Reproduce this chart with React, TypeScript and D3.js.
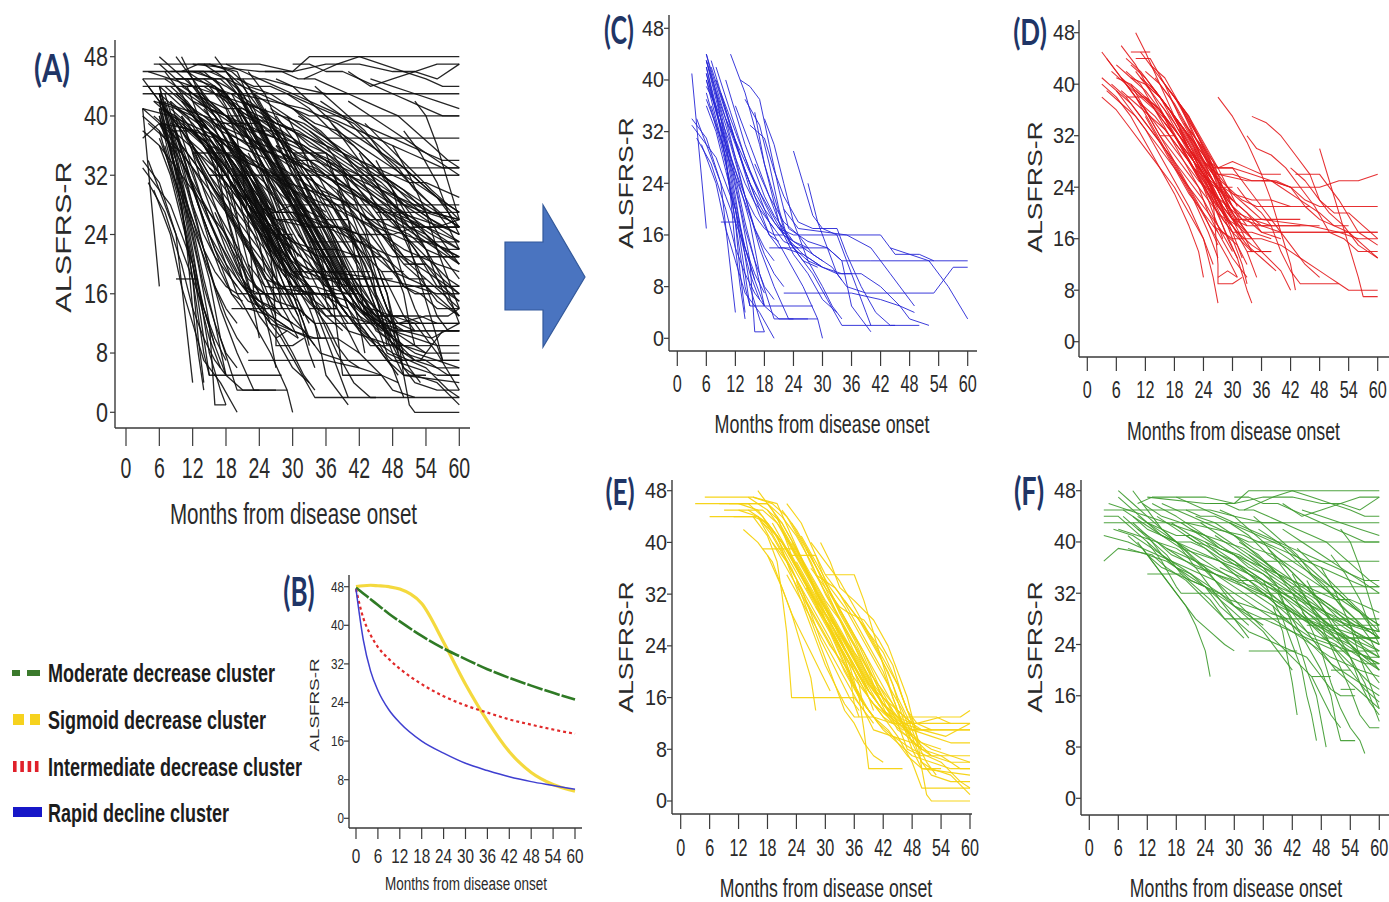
import React from 'react';
import * as d3 from 'd3';

type Pt = [number, number];

// ---------- DATA (month, ALSFRS-R) ----------
const monthTicks = [0, 6, 12, 18, 24, 30, 36, 42, 48, 54, 60];
const scoreTicks = [0, 8, 16, 24, 32, 40, 48];

// (C) Rapid decline cluster
const rapidCluster: string[] = [
  "3 41,6 17",
  "3 34,6 31,9 24,12 4",
  "3 33,8 28,12 20,14 10,15 5",
  "6 44,8 38,12 22,15 8,17 3,18 1",
  "6 43,9 35,12 25,14 18,16 12,18 5,21 3,27 3",
  "6 42,9 32,12 18,13 10,14 4",
  "6 41,10 30,13 20,15 12,16 1,18 1",
  "6 40,9 33,12 26,15 18,17 10,20 3,24 3",
  "6 39,8 36,11 30,14 22,17 14,20 8,23 3,29 3",
  "7 36,10 28,12 18,14 8,15 5,28 5",
  "8 42,11 35,14 28,17 22,20 16,23 12,26 8,29 3,30 0",
  "11 44,14 38,17 30,19 24,21 18,24 14,28 10,31 6,34 2,45 2",
  "13 40,15 39,17 37,19 30,21 23,23 17,27 15,31 14,34 12,36 5,40 1",
  "15 33,18 31,20 26,22 22,25 18,28 17,33 17,35 13,38 8,41 4,44 2,50 2",
  "16 35,18 27,20 22,22 17,24 14,31 14,34 12,40 12,60 12",
  "21 17,24 16,42 16,45 13,50 13,53 12",
  "24 29,26 24,28 19,30 17,33 16,35 12,37 8,39 4,40 2",
  "27 24,29 18,31 14,33 10,35 8,39 7,53 7,55 9,57 11,60 11",
  "19 14,22 14,26 13,30 11,34 10,38 10,42 8,46 5,48 3,52 2",
  "22 7,36 7,42 6,46 5,49 4",
  "44 14,48 13,52 12,56 8,60 3",
  "6 38,9 30,11 24,13 16,15 10,17 6",
  "6 36,8 32,10 26,12 20,14 14,16 9,18 5",
  "7 42,10 35,13 28,16 22,19 18,22 15,25 14",
  "8 40,11 33,14 26,17 20,19 16,21 14,24 14,27 12,30 11",
  "9 38,12 32,15 26,18 21,20 18,22 16,26 13,30 11,33 10,36 10",
  "4 31,7 27,10 20,12 14,14 10,16 7,18 5",
  "5 30,8 24,10 17,12 12,14 7,17 4,20 0",
  "10 34,13 29,16 24,19 20,22 16,24 15,28 13,32 11,34 9",
  "12 36,15 30,18 24,20 20,22 16,24 13,27 10,30 6,33 4",
  "6 40,8 34,10 28,11 22,12 14,13 8,14 3",
  "16 27,19 22,22 18,25 16,28 13,30 12",
  "18 34,20 30,22 24,24 18,27 12,30 8,32 5,34 3",
  "22 20,25 17,35 16,40 14,44 10,47 7,49 5",
  "9 18,13 18",
  "14 37,17 33,19 27,21 20,23 15,26 12,29 11",
  "6 43,8 37,10 31,12 24,14 17,16 12,18 8,20 6",
  "6 44,8 39,10 34,12 28,14 22,16 17,18 14,20 12",
  "6 42,8 36,10 29,12 21,14 14,16 9",
  "6 43,9 36,12 30,15 24,18 20,21 17,24 15,27 14",
  "7 43,9 38,11 33,13 28,15 23,17 19,19 16,21 15",
  "6 41,8 35,10 30,12 26,14 22,16 19,18 17,20 16,22 16",
  "8 38,10 33,12 28,14 24,16 21,18 19,20 17",
  "6 37,8 33,10 29,12 25,14 21,16 17,18 13,20 10,22 8",
  "10 40,12 35,14 30,16 26,18 22,20 19,22 17,24 15",
  "4 34,6 30,8 26,10 22,12 18,14 14,16 10,18 7",
];

// (D) Intermediate decrease cluster
const intermediateCluster: string[] = [
  "3 45,6 42,9 39,12 36,15 32,18 28,21 24,24 20,27 15",
  "3 41,6 39,9 37,12 34,15 31,18 28,21 25,24 22,27 18,30 14",
  "3 38,6 36,9 33,12 30,15 27,18 24,21 20,24 16,26 12",
  "7 46,10 43,13 39,16 35,19 31,22 27,25 23,28 18,31 13,33 8,34 6",
  "10 48,12 45,15 40,18 35,21 30,24 26,27 22,30 18,33 14,35 10",
  "10 44,13 44,16 40,19 35,22 31,25 27,28 24,30 22",
  "6 41,9 40,12 38,15 36,18 33,21 30,24 27,27 22,30 17,32 13",
  "8 38,12 38,15 36,18 32,21 28,24 24,27 20,30 17,34 14,38 14",
  "9 41,12 40,15 38,18 34,21 30,24 26,26 22,27 12,27 9,30 9,32 10",
  "12 40,15 38,18 35,21 31,24 27,27 24,30 22,33 20,36 18,40 17,60 17",
  "12 42,15 40,18 37,21 33,24 28,27 26,30 26,34 25,38 25,42 24,48 24,52 25,56 25,60 26",
  "14 41,17 38,20 34,23 30,26 27,30 27,34 26,38 25,42 24,45 22,48 21,60 21",
  "16 40,18 38,21 35,24 30,27 26,30 23,33 21,36 19,46 18,52 17,56 16,60 16",
  "18 38,21 34,24 29,27 25,30 22,33 20,36 17,60 17",
  "24 28,27 26,33 25,38 25,40 24,44 22,48 20,51 18,54 17,57 15,60 13",
  "27 38,30 35,33 31,36 26,38 22,40 17,42 12,43 8",
  "34 35,37 34,40 32,43 29,46 26,48 22,50 20,53 18,56 15,58 14,60 13",
  "33 32,35 30,38 29,41 27,44 24,47 21,50 17,53 16,56 14,60 14",
  "31 24,33 22,36 20,38 18,40 14,42 11,44 9,52 9,54 8,60 8",
  "48 30,50 25,52 20,54 15,56 10,57 7,60 7",
  "42 27,45 25,48 22,51 20,54 20,57 18,60 16",
  "36 25,39 25,42 24,45 21,48 19,51 18,54 18",
  "26 18,30 16,36 16,40 15,44 13,48 11,50 10,52 9",
  "33 14,38 14",
  "5 40,8 38,11 35,14 32,17 29,20 25,23 21,26 17,29 13,31 10",
  "4 44,7 41,10 38,13 34,16 30,19 26,22 22,25 17,27 13",
  "6 39,9 36,12 33,15 29,18 25,21 21,24 16,26 10,27 6",
  "8 42,11 40,14 36,17 32,20 28,23 24,25 20,28 17,31 15,33 12",
  "9 40,12 36,15 32,18 29,21 26,24 23,27 20,30 18,33 15,36 13,39 11",
  "10 42,13 39,16 36,19 32,22 28,25 24,28 20,30 16,32 12,33 9",
  "11 37,14 35,17 32,20 29,23 26,26 23,29 21,32 19,36 18,48 18",
  "12 35,15 31,18 27,21 23,24 20,27 17,30 13,33 10",
  "13 43,16 40,19 37,22 32,25 28,27 24,30 20,33 17,36 14,40 11,42 8",
  "14 39,17 36,20 33,23 29,26 26,29 24,32 22,35 21,46 21",
  "15 37,18 34,21 30,24 26,27 22,30 19,33 18,44 18",
  "16 34,19 31,22 27,25 23,28 20,31 17,34 15,36 14",
  "7 39,10 37,13 35,16 33,19 30,22 27,25 25,28 23,30 22",
  "17 36,20 32,23 28,25 25,27 21,29 19,31 18",
  "19 33,21 30,23 26,25 23,27 20,29 16,31 13",
  "20 31,22 28,24 25,26 22,28 19,30 17,34 17,38 16",
  "22 30,24 27,26 24,28 21,30 19,44 19",
  "3 40,6 38,9 35,12 31,15 27,18 23,21 18,23 14,24 10",
  "11 45,13 43,16 41,19 37,22 33,25 29,27 27,30 27,33 24,36 21,39 18,42 15,45 12,48 10",
  "15 32,18 32,21 29,24 26,27 24,30 24",
  "43 26,48 26,52 22,56 17,60 15",
  "9 45,13 45",
  "27 10,29 11,31 10",
  "6 43,9 41,12 39,15 36,18 32,21 28,24 24,26 20,28 16",
  "7 41,10 39,13 37,16 34,19 31,22 28,25 25,27 22,29 19",
  "8 40,11 38,14 36,17 33,20 30,23 27,25 24,27 21",
  "9 43,12 41,15 38,18 35,21 32,24 29,26 26,28 23,30 20",
  "10 39,13 37,16 35,19 32,22 29,24 26,26 23,28 20,30 18",
  "11 41,14 39,17 36,20 32,23 28,25 25,27 22,29 19",
  "12 38,15 36,18 33,21 30,24 27,26 24,28 21,31 18,34 16",
  "13 40,16 37,19 34,22 31,24 28,26 25,28 22,30 19",
  "14 36,17 34,20 31,23 28,26 25,28 22,30 20,32 18",
  "15 41,18 38,21 35,24 31,27 27,29 24,31 21",
  "17 39,20 36,23 32,26 28,28 24,30 21,32 18,34 16",
  "18 35,21 32,24 28,26 25,28 22,30 19,33 17",
  "19 37,22 33,25 29,27 25,29 21,31 18",
  "20 34,23 31,26 27,28 23,30 20,32 17,34 14",
  "5 42,8 40,11 37,14 34,17 31,20 28,23 25,26 23,28 21",
  "4 39,7 37,10 35,13 32,16 29,19 26,22 23,25 20,27 17",
  "16 37,19 34,22 30,25 26,28 23,31 20,34 19,38 18",
  "21 33,24 30,26 27,28 24,30 21,33 19,36 17,40 16",
  "23 31,25 28,27 25,29 22,31 20,33 18",
  "8 44,11 42,14 39,17 36,20 33,23 29,26 25,28 22,30 19,32 16",
  "25 28,27 27,30 28,33 27,36 26,40 26",
  "28 24,30 23,34 22,38 22,42 21",
];

// (E) Sigmoid decrease cluster
const sigmoidCluster: string[] = [
  "3 46,12 46,16 45,19 42,22 38,25 34,28 30,31 26,34 21,37 16,40 13,44 12,60 12",
  "5 47,15 47,20 46,23 41,26 36,29 31,32 27,35 22,38 18,42 14,46 12,50 11,60 11",
  "6 44,15 44,18 43,21 40,24 36,27 32,30 28,33 23,36 18,39 14,42 11,45 9,48 7,52 6,56 5,60 5",
  "10 46,14 46,17 44,20 40,23 36,26 31,29 27,32 23,35 19,38 15,41 12,44 10,48 8,54 6,58 3,60 2",
  "12 45,16 44,19 40,22 37,25 33,28 29,31 25,34 20,37 16,40 13,43 11,47 7,50 5,60 4",
  "14 47,18 45,21 42,24 38,27 34,30 30,33 26,36 22,39 17,42 14,45 12,48 10,52 8,56 7,60 6",
  "16 48,19 45,22 41,25 37,28 33,31 29,34 25,37 21,40 17,43 14,46 12,49 12,54 13,58 13,60 14",
  "17 39,24 39,26 36,29 32,32 28,35 24,38 20,41 16,44 13,48 10,52 7,56 6,60 6",
  "15 44,18 41,20 37,21 32,22 26,23 16,36 16,38 14",
  "19 43,22 39,25 35,28 31,31 28,34 25,37 22,40 18,43 15,45 12,47 8,50 7,60 7",
  "20 44,22 40,23 38,28 38,30 35,36 35,38 31,40 26,42 21,44 16,46 12,48 8,50 5,54 5",
  "21 45,24 42,27 38,30 33,33 28,36 24,39 19,42 15,45 13,48 11,52 10,56 9,60 9",
  "22 46,25 43,28 38,30 34,33 29,36 25,39 20,41 16,43 13,46 11,50 11,55 10,60 12",
  "23 40,26 36,28 32,30 28,33 24,36 20,39 16,42 13,45 10,48 6,50 2,60 2",
  "25 41,28 37,31 33,34 30,37 26,40 22,43 18,46 14,48 10,50 6,52 4,56 3,60 3",
  "29 40,31 37,33 33,36 31,40 28,43 24,45 20,47 16,49 10,50 5,51 1,52 0,60 0",
  "27 36,30 33,33 30,35 29,38 28,41 25,44 21,46 16,48 12,50 8",
  "18 38,21 33,23 29,25 24,27 19,28 14",
  "24 34,26 30,28 26,30 22,32 18,34 14,36 12,38 9,40 7,42 6",
  "26 33,29 29,32 25,35 21,37 16,38 11,39 5,46 5",
  "30 30,33 26,36 22,39 18,42 16,45 14,48 12,50 11",
  "31 32,34 28,37 24,40 19,43 14,45 11,47 10,50 8,54 7,58 5,60 5",
  "8 46,18 46,21 44,24 41,27 37,30 32,33 28,36 23,39 19,42 15,45 13,53 13,56 12",
  "15 47,19 46,22 44,25 40,28 35,31 31,34 27,37 23,40 19,42 16,44 14",
  "20 41,22 37,24 33,26 29,28 25,30 21,32 18,34 15,36 13,40 13",
  "13 42,16 40,19 37,21 33,23 29,25 26,27 23,29 20,31 17",
  "28 35,32 33,35 30,38 27,41 23,44 18,46 13,48 9,50 6,52 5,56 4,60 1",
  "34 31,37 28,40 24,43 20,45 16,47 13,49 9,51 6,53 4",
  "11 44,16 44,19 41,22 37,25 33,27 29,29 25,31 22,33 19,35 16,37 14",
  "36 29,39 26,42 23,45 18,47 14,49 12,52 11,60 11",
  "28 30,31 27,33 24,35 20,36 15,37 13",
  "32 26,35 22,37 18,38 14,40 11,44 10,48 9",
  "9 45,17 45,20 43,23 39,26 35,29 31,32 27,35 23,38 19,41 15,44 12,47 10,50 8",
  "12 46,18 46,21 43,24 39,27 34,30 29,33 25,36 21,39 17,42 14,45 12",
  "14 45,18 43,21 40,24 36,27 32,30 28,33 24,36 20,39 16,42 13,44 12",
  "16 44,19 42,22 39,25 35,28 31,30 28,32 25,34 22,36 18,38 15,40 13",
  "18 45,21 43,24 39,27 35,30 31,33 28,36 24,39 20,42 17,45 14,48 12",
  "19 40,22 36,25 32,28 28,31 24,34 21,37 18,40 15,43 13",
  "21 42,24 38,27 34,30 30,33 26,36 22,39 18,42 15,45 13,48 12",
  "23 43,26 39,29 35,32 31,35 27,38 23,41 19,44 15,46 12,48 10",
  "24 37,27 33,30 29,33 25,36 21,39 17,42 14,45 12,48 11,52 11",
  "26 39,29 35,32 31,35 27,38 23,41 18,44 14,47 11,50 9,54 8",
  "27 40,30 37,33 34,36 30,39 26,42 22,45 18,47 14,49 11",
  "22 35,25 31,28 27,31 23,34 19,37 15,40 12",
  "30 35,33 32,36 28,39 24,42 20,44 16,46 12,48 9,52 7",
  "17 43,20 41,23 38,26 34,29 30,32 26,35 22,38 18,40 14",
];

// (F) Moderate decrease cluster
const moderateCluster: string[] = [
  "3 45,12 45,20 45,25 45,30 44,36 43,60 43",
  "3 43,9 43,15 43,20 43,26 42,32 41,38 39,44 36,50 33,56 29,60 26",
  "3 41,8 40,14 38,20 36,26 34,32 31,38 28,44 25,50 22,56 20,60 19",
  "3 37,6 39,13 38,16 36,20 34,24 31,28 28,32 25",
  "6 48,9 46,12 44,15 42,18 40,21 37,24 34,27 31,30 28,33 25",
  "9 48,12 45,15 42,18 40,21 38,24 36,27 33,30 30,33 28,36 26,39 23,42 20",
  "10 46,13 47,24 47,30 46,33 48,60 48",
  "12 47,24 46,30 46,36 47,42 47,48 46,52 46,56 47,60 47",
  "10 44,14 42,18 40,22 37,26 34,30 31,34 28,38 25,42 22,46 19,48 16,50 13,52 11",
  "8 41,11 39,14 36,17 33,20 30,22 27,24 23,25 19",
  "10 40,13 37,16 34,19 31,22 28,25 26,28 24,30 23",
  "7 44,10 42,13 40,16 38,19 35,22 33,25 31,28 28,60 28",
  "12 40,15 37,18 33,19 32,60 32",
  "19 43,40 43",
  "35 40,60 40",
  "36 37,60 37",
  "42 33,60 33",
  "45 27,60 27",
  "48 25,60 25",
  "33 23,43 23",
  "46 19,50 19",
  "50 20,54 20",
  "52 17,55 17",
  "6 47,9 45,12 43,15 41,18 40,21 39,24 38,27 37,30 36,33 35,36 34,39 33,42 32,45 30,48 28,51 26,54 24,57 22,60 20",
  "9 44,12 42,15 41,18 40,21 40,24 39,27 37,30 35,33 33,36 32,39 30,42 28,45 26,48 25,51 24,54 22,57 21,60 21",
  "12 43,15 42,18 41,21 41,24 40,27 39,30 38,33 37,36 36,39 35,42 34,45 33,48 32,51 31,54 31,57 30,60 29",
  "15 46,18 45,21 44,24 43,27 42,30 41,33 40,36 40,39 39,42 38,45 37,48 36,51 35,54 34,57 33,60 33",
  "18 47,21 46,24 45,27 44,30 43,33 42,36 41,39 40,42 39,45 38,48 37,51 36,54 35,57 34,60 34",
  "21 42,24 41,27 39,30 38,33 36,36 35,39 33,42 31,45 29,48 27,51 25,54 24,57 22,60 21",
  "24 40,27 38,30 37,33 35,36 33,39 31,42 29,45 26,48 23,51 20,54 18,57 16,60 14",
  "27 45,30 44,33 42,36 40,39 37,42 34,45 31,48 28,51 25,54 22,57 18,59 14,60 12",
  "30 41,33 39,36 37,39 35,42 32,45 28,48 23,50 18,52 14,54 11,56 9,57 7",
  "33 38,36 36,39 33,41 29,43 25,45 20,47 16,48 12,49 8",
  "36 34,38 31,40 28,42 24,44 20,45 16,46 13,47 9",
  "38 30,40 26,41 22,42 18,43 13",
  "39 32,42 28,45 24,48 20,50 16,51 12,52 9,55 9",
  "42 35,45 31,48 27,51 22,54 17,56 13,58 11,60 11",
  "45 34,48 30,51 26,54 22,56 18,58 15,60 13",
  "48 36,51 32,54 27,56 22,58 18,60 14",
  "50 38,53 35,56 31,58 27,60 24",
  "52 42,54 40,56 36,58 31,60 26",
  "3 44,6 44,9 42,12 40,15 38,18 36,21 34,24 33,27 32,30 30,33 29,36 28,39 27,42 26,45 25,48 24,51 23,60 23",
  "12 38,15 36,18 35,21 34,24 33,27 31,30 29,33 27",
  "14 40,17 38,20 37,23 36,26 35,29 34,32 33,35 32,38 31,41 30,44 28,47 27,50 26,53 25,60 25",
  "16 39,19 38,22 37,25 36,28 35,31 34,34 34,37 33,40 32,43 31,46 30,49 29,52 28,55 27,60 26",
  "20 45,23 44,26 44,29 43,32 42,35 41,38 40,41 39,44 37,47 35,50 33,53 31,56 29,58 27,60 25",
  "25 46,28 46,31 45,34 45,37 44,40 43,43 42,46 41,49 40,52 38,55 36,58 34,60 33",
  "30 47,33 47,36 46,39 46,42 45,45 44,48 43,51 42,54 41,57 40,60 40",
  "32 45,35 46,38 47,42 48,46 47,50 46,54 45,57 44,60 44",
  "40 46,44 44,48 45,52 46,56 45,60 47",
  "9 43,12 41,15 38,18 36,21 35,24 33,27 30,30 28,33 26,36 25,39 24,42 23,45 22,48 19,50 17,52 16,55 16",
  "27 36,30 35,33 34,36 32,39 30,42 29,45 28,48 27,51 26,54 25,57 24,60 23",
  "34 44,37 42,40 40,43 38,46 35,49 33,52 30,55 28,58 25,60 22",
  "12 35,19 35",
  "46 32,50 30,54 27,57 23,60 20",
  "44 29,48 26,52 22,55 19,57 17,60 15",
  "13 46,18 44,22 42,26 40,30 38,34 36,38 34,42 32,46 30,50 28,54 27,58 26,60 25",
  "18 40,22 38,26 36,30 34,34 32,38 30,42 27,46 24,50 21,54 19,58 17,60 16",
  "6 42,10 41,14 40,18 39,22 37,26 35,30 33,34 31,38 29,42 27,46 25,50 24,54 23,58 22,60 22",
  "22 44,26 43,30 41,34 39,38 38,42 36,46 34,50 32,54 30,58 28,60 27",
  "4 46,8 45,12 44,16 43,20 42,24 41,28 40,32 39,36 37,40 35,44 33,48 31,52 29,56 27,60 25",
  "7 45,11 43,15 41,19 39,23 38,27 37,31 35,35 33,39 31,43 29,47 27,51 25,55 23,60 21",
  "10 42,14 40,18 38,22 36,26 35,30 34,34 33,38 31,42 29,46 27,50 25,54 23,58 21,60 20",
  "11 46,15 44,19 43,23 41,27 39,31 38,35 36,39 34,43 32,47 30,51 28,55 26,60 24",
  "14 44,18 42,22 40,26 39,30 37,34 35,38 33,42 30,46 27,50 24,54 21,58 18,60 17",
  "17 43,21 41,25 39,29 37,33 35,37 33,41 31,45 29,49 27,53 26,57 25,60 25",
  "20 41,24 39,28 37,32 36,36 34,40 32,44 30,48 28,52 26,56 24,60 22",
  "23 43,27 41,31 39,35 37,39 35,43 33,47 31,51 29,55 27,60 26",
  "26 41,30 39,34 37,38 35,42 33,46 31,50 28,54 26,58 24,60 23",
  "29 43,33 41,37 38,41 36,45 33,49 30,53 27,57 25,60 24",
  "31 40,35 38,39 35,43 32,47 29,51 26,55 24,60 22",
  "35 42,39 40,43 37,47 34,51 31,55 28,58 26,60 25",
  "37 39,41 36,45 33,49 29,52 26,55 23,58 20,60 18",
  "8 39,12 38,16 37,20 35,24 33,28 31,32 29,36 27",
  "5 42,9 41,13 39,17 37,21 35,25 33,29 31,33 30,37 29,41 28",
  "40 42,44 40,48 38,52 36,56 34,60 32",
  "43 39,47 36,51 33,55 30,58 28,60 27",
  "44 45,48 44,52 43,56 42,60 41",
];

// (B) cluster mean trajectories
const meanMonths = [0, 2, 4, 6, 9, 12, 18, 24, 30, 36, 42, 48, 54, 60];
const meanModerate = [47.8, 46.6, 45.4, 44.2, 42.4, 40.8, 37.8, 35.2, 33.0, 30.9, 29.1, 27.5, 26.0, 24.6];
const meanSigmoid = [48, 48.2, 48.3, 48.2, 48, 47.5, 44.5, 36.5, 27.8, 20.2, 13.8, 9.5, 7.0, 5.6];
const meanIntermediate = [47.5, 41.5, 38, 35.5, 33, 31, 27.8, 25.3, 23.4, 21.9, 20.5, 19.4, 18.4, 17.5];
const meanRapid = [47.5, 37, 30.5, 26.5, 22.5, 19.8, 16, 13.5, 11.4, 9.9, 8.6, 7.6, 6.8, 6.0];

const legendLabels = [
  "Moderate decrease cluster",
  "Sigmoid decrease cluster",
  "Intermediate decrease cluster",
  "Rapid decline cluster",
];

// ---------- helpers ----------
const parse = (s: string): Pt[] =>
  s.split(',').map((p) => {
    const [m, v] = p.trim().split(' ').map(Number);
    return [m, v] as Pt;
  });

const SANS = "'Liberation Sans', Arial, sans-serif";
const LETTER = "Lato, 'Open Sans', sans-serif";
const AXIS = '#3a3a3a';
const TXT = '#2a2a2a';

// Text whose natural width is set by font size; sy stretches it vertically (the figure is tall-condensed)
function T(props: {
  x: number; y: number; fs: number; sy: number; rot?: number; anchor?: string;
  family?: string; weight?: number | string; fill?: string; children: React.ReactNode;
}) {
  const { x, y, fs, sy, rot = 0, anchor = 'middle', family = SANS, weight = 400, fill = TXT, children } = props;
  return (
    <text
      transform={`translate(${x},${y}) rotate(${rot}) scale(1,${sy})`}
      textAnchor={anchor as any} dominantBaseline="central"
      fontSize={fs} fontFamily={family} fontWeight={weight as any} fill={fill}
    >{children}</text>
  );
}

type Layout = {
  x0: number; x60: number; y0: number; y48: number;
  axX: number; axTop: number; axY: number; axRight: number;
  tick: number;
  xLab: { y: number; fs: number; sy: number };
  yLab: { r: number; fs: number; sy: number };
  title: { cx: number; cy: number; fs: number; sy: number };
  ylab: { cx: number; cy: number; fs: number; sy: number };
  letter: { t: string; cx: number; cy: number; fs: number; sy: number };
};

const layouts: Record<string, Layout> = {
  A: {
    x0: 126, x60: 459.3, y0: 412.3, y48: 56.7, axX: 115, axTop: 40, axY: 428, axRight: 470, tick: 18,
    xLab: { y: 467, fs: 19.5, sy: 1.54 },
    yLab: { r: 108, fs: 21.6, sy: 1.25 },
    title: { cx: 293.5, cy: 514, fs: 20.6, sy: 1.45 },
    ylab: { cx: 63.5, cy: 237, fs: 30.6, sy: 0.75 },
    letter: { t: '(A)', cx: 52, cy: 67, fs: 29, sy: 1.3 },
  },
  C: {
    x0: 677.3, x60: 967.7, y0: 338.3, y48: 28.3, axX: 669, axTop: 15, axY: 351, axRight: 977, tick: 15,
    xLab: { y: 383, fs: 16.2, sy: 1.48 },
    yLab: { r: 664, fs: 19.8, sy: 1.16 },
    title: { cx: 822, cy: 424, fs: 17.9, sy: 1.45 },
    ylab: { cx: 625.5, cy: 183, fs: 26.6, sy: 0.79 },
    letter: { t: '(C)', cx: 619, cy: 30, fs: 25, sy: 1.5 },
  },
  D: {
    x0: 1087.3, x60: 1377.7, y0: 341.7, y48: 32.7, axX: 1079, axTop: 20, axY: 357, axRight: 1389, tick: 14,
    xLab: { y: 389, fs: 16.2, sy: 1.48 },
    yLab: { r: 1075, fs: 19.8, sy: 1.16 },
    title: { cx: 1233.5, cy: 431, fs: 17.75, sy: 1.45 },
    ylab: { cx: 1034.5, cy: 187, fs: 26.6, sy: 0.79 },
    letter: { t: '(D)', cx: 1030, cy: 31, fs: 26, sy: 1.4 },
  },
  E: {
    x0: 680.7, x60: 970, y0: 801, y48: 490.7, axX: 672, axTop: 480, axY: 814, axRight: 972, tick: 15,
    xLab: { y: 847, fs: 16.2, sy: 1.48 },
    yLab: { r: 667, fs: 19.8, sy: 1.16 },
    title: { cx: 826, cy: 888, fs: 17.7, sy: 1.45 },
    ylab: { cx: 625.5, cy: 647, fs: 26.6, sy: 0.79 },
    letter: { t: '(E)', cx: 620, cy: 491, fs: 26, sy: 1.4 },
  },
  F: {
    x0: 1089.3, x60: 1379.3, y0: 798.3, y48: 490.7, axX: 1081, axTop: 480, axY: 815, axRight: 1389, tick: 15,
    xLab: { y: 847, fs: 16.2, sy: 1.48 },
    yLab: { r: 1076, fs: 19.8, sy: 1.16 },
    title: { cx: 1236, cy: 888, fs: 17.7, sy: 1.45 },
    ylab: { cx: 1034.5, cy: 647, fs: 26.6, sy: 0.79 },
    letter: { t: '(F)', cx: 1029, cy: 491, fs: 27, sy: 1.4 },
  },
  B: {
    x0: 356, x60: 575, y0: 818.3, y48: 586.7, axX: 349, axTop: 575, axY: 828, axRight: 582, tick: 11,
    xLab: { y: 856, fs: 15.3, sy: 1.3 },
    yLab: { r: 344, fs: 11.7, sy: 1.2 },
    title: { cx: 466, cy: 884, fs: 13.5, sy: 1.33 },
    ylab: { cx: 314, cy: 705, fs: 18.8, sy: 0.69 },
    letter: { t: '(B)', cx: 299, cy: 591, fs: 26, sy: 1.55 },
  },
};

const scalesFor = (L: Layout) => ({
  x: d3.scaleLinear().domain([0, 60]).range([L.x0, L.x60]),
  y: d3.scaleLinear().domain([0, 48]).range([L.y0, L.y48]),
});

function Frame({ L }: { L: Layout }) {
  const { x, y } = scalesFor(L);
  return (
    <g>
      <line x1={L.axX} x2={L.axX} y1={L.axTop} y2={L.axY} stroke={AXIS} strokeWidth={1.4} />
      <line x1={L.axX} x2={L.axRight} y1={L.axY} y2={L.axY} stroke={AXIS} strokeWidth={1.4} />
      {monthTicks.map((m) => (
        <g key={'x' + m}>
          <line x1={x(m)} x2={x(m)} y1={L.axY} y2={L.axY + L.tick} stroke={AXIS} strokeWidth={1.2} />
          <T x={x(m)} y={L.xLab.y} fs={L.xLab.fs} sy={L.xLab.sy}>{m}</T>
        </g>
      ))}
      {scoreTicks.map((v) => (
        <g key={'y' + v}>
          <line x1={L.axX - 5} x2={L.axX} y1={y(v)} y2={y(v)} stroke={AXIS} strokeWidth={1.2} />
          <T x={L.yLab.r} y={y(v)} fs={L.yLab.fs} sy={L.yLab.sy} anchor="end">{v}</T>
        </g>
      ))}
      <T x={L.title.cx} y={L.title.cy} fs={L.title.fs} sy={L.title.sy}>Months from disease onset</T>
      <T x={L.ylab.cx} y={L.ylab.cy} fs={L.ylab.fs} sy={L.ylab.sy} rot={-90}>ALSFRS-R</T>
      <T x={L.letter.cx} y={L.letter.cy} fs={L.letter.fs} sy={L.letter.sy} family={LETTER} weight={700} fill="#1f3566">
        {L.letter.t}
      </T>
    </g>
  );
}

function Spaghetti({ L, rows, color, width, opacity }: { L: Layout; rows: string[]; color: string; width: number; opacity: number }) {
  const { x, y } = scalesFor(L);
  const line = d3.line<Pt>().x((d) => x(d[0])).y((d) => y(d[1]));
  return (
    <g fill="none" stroke={color} strokeWidth={width} strokeOpacity={opacity} strokeLinejoin="round">
      {rows.map((r, i) => (
        <path key={i} d={line(parse(r)) || ''} />
      ))}
    </g>
  );
}

function MeanCurves({ L }: { L: Layout }) {
  const { x, y } = scalesFor(L);
  const mk = (vals: number[]) =>
    d3.line<number>().x((_, i) => x(meanMonths[i])).y((v) => y(v)).curve(d3.curveMonotoneX)(vals) || '';
  return (
    <g fill="none">
      <path d={mk(meanSigmoid)} stroke="#f2d21c" strokeWidth={3.2} strokeOpacity={0.85} />
      <path d={mk(meanModerate)} stroke="#2f7a25" strokeWidth={2.6} strokeDasharray="16,2" />
      <path d={mk(meanIntermediate)} stroke="#e12a2a" strokeWidth={2.2} strokeDasharray="3,3" />
      <path d={mk(meanRapid)} stroke="#3f3fd0" strokeWidth={1.5} />
    </g>
  );
}

function Legend() {
  const ys = [673, 720, 767, 813];
  return (
    <g>
      <rect x={12} y={670} width={8} height={6} fill="#3b7a2c" />
      <rect x={27} y={670} width={13} height={6} fill="#3b7a2c" />
      <rect x={13} y={714} width={11} height={11} fill="#f6d21e" />
      <rect x={30} y={714} width={10} height={11} fill="#f6d21e" />
      {[0, 1, 2, 3].map((i) => (
        <rect key={i} x={13 + i * 7.3} y={761} width={3.6} height={11} fill="#e0202a" />
      ))}
      <rect x={13} y={807} width={29} height={10} fill="#1717c8" />
      {legendLabels.map((t, i) => (
        <T key={t} x={48} y={ys[i]} fs={18} sy={1.39} anchor="start" weight={700} fill="#1c1c1c">{t}</T>
      ))}
    </g>
  );
}

function Arrow() {
  const pts: Pt[] = [[505, 242], [543, 242], [543, 205], [585, 277], [543, 347], [543, 310], [505, 310]];
  return <polygon points={pts.map((p) => p.join(',')).join(' ')} fill="#4a74c0" stroke="#33599b" strokeWidth={1.2} />;
}

export default function App() {
  const all = [...rapidCluster, ...intermediateCluster, ...sigmoidCluster, ...moderateCluster];
  return (
    <svg
      width={1389} height={902} viewBox="0 0 1389 902"
      style={{ position: 'absolute', left: 0, top: 0, background: '#fff' }}
    >
      <rect x={0} y={0} width={1389} height={902} fill="#fff" />
      <Spaghetti L={layouts.A} rows={all} color="#0d0d0d" width={1.3} opacity={0.9} />
      <Frame L={layouts.A} />
      <Arrow />
      <Spaghetti L={layouts.C} rows={rapidCluster} color="#2626d6" width={1} opacity={0.9} />
      <Frame L={layouts.C} />
      <Spaghetti L={layouts.D} rows={intermediateCluster} color="#e3191c" width={1.05} opacity={0.9} />
      <Frame L={layouts.D} />
      <Spaghetti L={layouts.E} rows={sigmoidCluster} color="#f5d20f" width={1.15} opacity={0.95} />
      <Frame L={layouts.E} />
      <Spaghetti L={layouts.F} rows={moderateCluster} color="#3d9a2d" width={1.05} opacity={0.9} />
      <Frame L={layouts.F} />
      <MeanCurves L={layouts.B} />
      <Frame L={layouts.B} />
      <Legend />
    </svg>
  );
}
